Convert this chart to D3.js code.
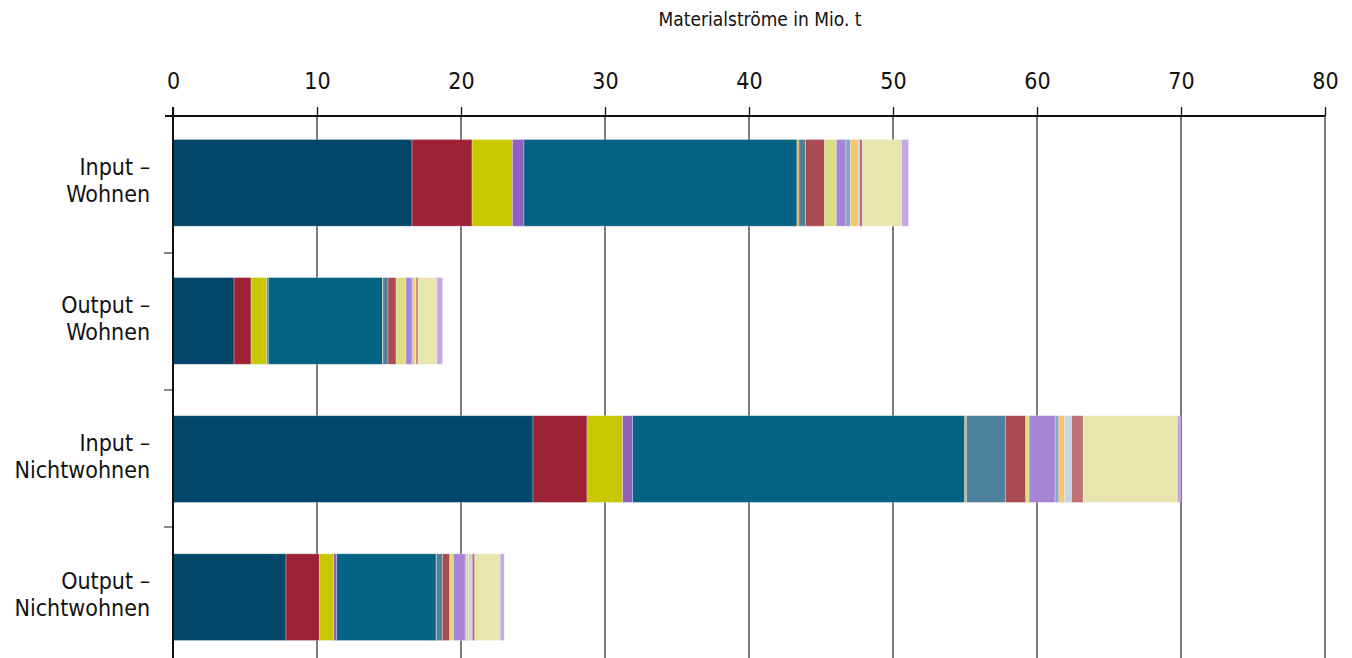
<!DOCTYPE html>
<html>
<head>
<meta charset="utf-8">
<script src="https://cdn.jsdelivr.net/npm/d3@7"></script>
<style>
    body { margin: 0; background: #fff; }
    text { font-family: "Liberation Sans Narrow", "DejaVu Sans Condensed", "Liberation Sans", sans-serif; font-stretch: condensed; fill: #111; }
</style>
</head>
<body>
<svg id="chart" width="1352" height="658"></svg>
<script>
// categories (top to bottom)
const categories = ["Input – Wohnen", "Output – Wohnen", "Input – Nichtwohnen", "Output – Nichtwohnen"];

// material groups (no legend shown in the original), in stacking order
const materials = ["m1", "m2", "m3", "m4", "m5", "m6", "m7", "m8", "m9", "m10", "m11", "m12", "m13", "m14", "m15", "m16"];
const materialColors = ["#02476a", "#9e2236", "#c8c800", "#9060c0", "#046283", "#f0a830", "#4d819b", "#a94b51",
    "#dcdc82", "#a884d6", "#86a8c2", "#fcc468", "#c4d6e2", "#c07272", "#e8e6ae", "#c4a8e4"];

// values in Mio. t, one per material
const inputWohnen = [16.6, 4.17, 2.8, 0.8, 18.96, 0.14, 0.46, 1.32, 0.81, 0.67, 0.33, 0.51, 0.1, 0.21, 2.71, 0.49];
const outputWohnen = [4.24, 1.18, 1.09, 0.11, 7.94, 0.02, 0.35, 0.56, 0.69, 0.42, 0.07, 0.18, 0.03, 0.14, 1.3, 0.4];
const inputNichtwohnen = [25.0, 3.75, 2.48, 0.69, 23.06, 0.12, 2.71, 1.41, 0.23, 1.81, 0.26, 0.39, 0.49, 0.81, 6.53, 0.23];
const outputNichtwohnen = [7.85, 2.31, 1.0, 0.21, 6.9, 0.02, 0.42, 0.51, 0.26, 0.81, 0.09, 0.14, 0.26, 0.18, 1.76, 0.28];

const xTicks = [0, 10, 20, 30, 40, 50, 60, 70, 80];
const axisTitle = "Materialströme in Mio. t";

const rows = [inputWohnen, outputWohnen, inputNichtwohnen, outputNichtwohnen].map((vals, i) => {
    const row = { category: categories[i] };
    materials.forEach((m, j) => (row[m] = vals[j]));
    return row;
});

const svg = d3.select("#chart");
const margin = { top: 116, left: 173, right: 27 };
const width = 1352, height = 658;

const x = d3.scaleLinear().domain([0, 80]).range([margin.left, width - margin.right]);
const y = d3.scaleBand()
    .domain(categories)
    .range([margin.top, margin.top + 137 * 4])
    .paddingInner(0.372)
    .paddingOuter(0.17);
const color = d3.scaleOrdinal().domain(materials).range(materialColors);

const stacked = d3.stack().keys(materials)(rows);

// gridlines (behind the bars)
svg.append("g")
    .selectAll("line")
    .data(xTicks.filter((t) => t > 0))
    .join("line")
    .attr("x1", (d) => x(d))
    .attr("x2", (d) => x(d))
    .attr("y1", margin.top)
    .attr("y2", height)
    .style("stroke", "#333")
    .style("stroke-width", 1.3);

// bars
svg.append("g")
    .selectAll("g")
    .data(stacked)
    .join("g")
    .attr("fill", (d) => color(d.key))
    .selectAll("rect")
    .data((d) => d)
    .join("rect")
    .attr("x", (d) => x(d[0]))
    .attr("y", (d) => y(d.data.category))
    .attr("width", (d) => x(d[1]) - x(d[0]))
    .attr("height", y.bandwidth())
    .style("stroke", "#fff")
    .style("stroke-opacity", 0.35)
    .style("stroke-width", 0.8);

// top axis
const xAxis = svg.append("g")
    .attr("transform", `translate(0,${margin.top})`)
    .call(d3.axisTop(x).tickValues(xTicks).tickSize(9).tickPadding(18).tickFormat(d3.format("d")));
xAxis.select(".domain").remove();
xAxis.selectAll(".tick line").style("stroke", "#111").style("stroke-width", 1.3);
xAxis.selectAll("text")
    .style("font-size", "23px")
    .style("fill", "#111");
svg.append("line")
    .attr("x1", margin.left - 8)
    .attr("x2", x(80))
    .attr("y1", margin.top)
    .attr("y2", margin.top)
    .style("stroke", "#111")
    .style("stroke-width", 2);

// left axis
const yTickPos = d3.range(1, 4).map((i) => margin.top + 137 * i);
svg.append("g")
    .selectAll("line")
    .data(yTickPos)
    .join("line")
    .attr("x1", margin.left - 9)
    .attr("x2", margin.left)
    .attr("y1", (d) => d)
    .attr("y2", (d) => d)
    .style("stroke", "#444")
    .style("stroke-width", 1.3);
svg.append("line")
    .attr("x1", margin.left)
    .attr("x2", margin.left)
    .attr("y1", margin.top - 9)
    .attr("y2", height)
    .style("stroke", "#111")
    .style("stroke-width", 2);

// category labels, split on the dash
const labels = svg.append("g")
    .selectAll("text")
    .data(categories)
    .join("text")
    .attr("text-anchor", "end")
    .attr("x", 150)
    .attr("y", (d) => y(d) + y.bandwidth() / 2 - 8)
    .style("font-size", "23px");
labels.append("tspan")
    .attr("x", 150)
    .text((d) => d.split(" ")[0] + " –");
labels.append("tspan")
    .attr("x", 150)
    .attr("dy", 27)
    .text((d) => d.split(" ")[2]);

svg.append("text")
    .attr("x", 760)
    .attr("y", 26)
    .attr("text-anchor", "middle")
    .style("font-size", "19px")
    .text(axisTitle);
</script>
</body>
</html>
